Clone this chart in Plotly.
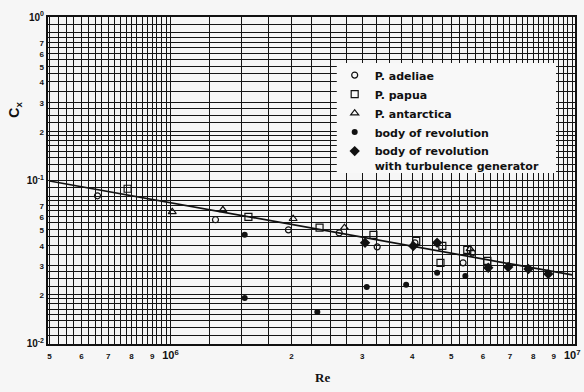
import plotly.graph_objects as go

# ---- data ----
adeliae_re = [6.58e5, 1.294e6, 1.966e6, 2.63e6, 3.27e6, 4.06e6, 5.64e6, 5.35e6]
adeliae_cx = [0.0803, 0.0573, 0.0497, 0.0476, 0.0391, 0.0414, 0.0359, 0.0312]

papua_re = [7.82e5, 1.563e6, 2.35e6, 3.20e6, 4.09e6, 4.75e6, 4.70e6, 5.48e6, 6.15e6]
papua_cx = [0.0887, 0.0597, 0.0512, 0.0463, 0.0425, 0.0396, 0.0312, 0.0375, 0.0321]

antarctica_re = [1.01e6, 1.35e6, 2.02e6, 2.71e6, 5.57e6]
antarctica_cx = [0.0641, 0.0659, 0.0581, 0.0512, 0.0380]

body_re = [1.53e6, 1.53e6, 2.32e6, 3.08e6, 3.86e6, 4.61e6, 5.42e6]
body_cx = [0.0463, 0.0190, 0.0156, 0.0222, 0.0229, 0.0271, 0.0259]

turb_re = [3.05e6, 4.02e6, 4.61e6, 6.18e6, 6.93e6, 7.78e6, 8.72e6]
turb_cx = [0.0414, 0.0396, 0.0414, 0.0291, 0.0294, 0.0286, 0.0267]

fit_re = [5.0e5, 1.0e7]
fit_cx = [0.099, 0.0263]

# tick labels
x_label_vals = [5e5, 6e5, 7e5, 8e5, 9e5, 1e6, 2e6, 3e6, 4e6, 5e6, 6e6, 7e6, 8e6, 9e6, 1e7]
x_label_txt = ["5", "6", "7", "8", "9", "10<sup>6</sup>", "2", "3", "4", "5", "6", "7", "8", "9", "10<sup>7</sup>"]
y_label_vals = [1.0, 0.7, 0.6, 0.5, 0.4, 0.3, 0.2, 0.1, 0.07, 0.06, 0.05, 0.04, 0.03, 0.02, 0.01]
y_label_txt = ["10<sup>0</sup>", "7", "6", "5", "4", "3", "2", "10<sup>-1</sup>",
               "7", "6", "5", "4", "3", "2", "10<sup>-2</sup>"]

# graph-paper grid positions
def frange(a, b, s):
    out = []
    v = a
    while v <= b + 1e-12:
        out.append(round(v, 10))
        v += s
    return out

x_grid = sorted(set(frange(5e5, 1e6, 0.25e5) + frange(1e6, 1e7, 0.25e6)))
y_grid = []
for base in (0.01, 0.1):
    y_grid += frange(base, 2 * base, 0.125 * base)
    y_grid += frange(2 * base, 3 * base, 0.25 * base)
    y_grid += frange(3 * base, 8 * base, 0.5 * base)
    y_grid += frange(8 * base, 10 * base, 1.0 * base)
y_grid = sorted(set(round(v, 8) for v in y_grid))


def fmt(t):
    if t.startswith("10"):
        return "<b>" + t + "</b>"
    return '<span style="font-size:8px"><b>' + t + "</b></span>"


def label_for(v, vals, txts):
    for lv, lt in zip(vals, txts):
        if abs(v - lv) / lv < 1e-6:
            return fmt(lt)
    return " "


x_ticktext = [label_for(v, x_label_vals, x_label_txt) for v in x_grid]
y_ticktext = [label_for(v, y_label_vals, y_label_txt) for v in y_grid]

fig = go.Figure()

fig.add_trace(go.Scatter(x=fit_re, y=fit_cx, mode="lines",
                         line=dict(color="#111", width=1.7), showlegend=False,
                         hoverinfo="skip"))

mk_line = dict(color="#111", width=1.2)
fig.add_trace(go.Scatter(x=adeliae_re, y=adeliae_cx, mode="markers", name="P. adeliae",
                         marker=dict(symbol="circle-open", size=6, color="#111", line=mk_line)))
fig.add_trace(go.Scatter(x=papua_re, y=papua_cx, mode="markers", name="P. papua",
                         marker=dict(symbol="square-open", size=7, color="#111", line=mk_line)))
fig.add_trace(go.Scatter(x=antarctica_re, y=antarctica_cx, mode="markers", name="P. antarctica",
                         marker=dict(symbol="triangle-up-open", size=7, color="#111", line=mk_line)))
fig.add_trace(go.Scatter(x=body_re, y=body_cx, mode="markers", name="body of revolution",
                         marker=dict(symbol="circle", size=6, color="#111")))
fig.add_trace(go.Scatter(x=turb_re, y=turb_cx, mode="markers",
                         name="body of revolution<br>with turbulence generator",
                         marker=dict(symbol="diamond", size=8, color="#111")))

bg = "#f6f6f6"
fig.update_layout(
    width=584, height=392,
    margin=dict(l=48, r=9, t=17, b=48, autoexpand=False),
    paper_bgcolor=bg, plot_bgcolor=bg,
    font=dict(family="Liberation Sans, Arial, sans-serif", color="#111", size=11),
    showlegend=True,
    legend=dict(x=0.544, y=0.864, xanchor="left", yanchor="top",
                bgcolor="rgba(0,0,0,0)", borderwidth=0, tracegroupgap=0,
                valign="top",
                font=dict(size=11, family="DejaVu Sans, sans-serif",
                          weight="bold", color="#111")),
    xaxis=dict(type="log", range=[5.695, 7.007], automargin=False,
               tickmode="array", tickvals=x_grid, ticktext=x_ticktext,
               showgrid=True, gridcolor="#151515", gridwidth=1.3,
               ticks="", showline=True, linecolor="#111", linewidth=2, mirror=True,
               zeroline=False, tickfont=dict(size=11, color="#111"), tickangle=0),
    yaxis=dict(type="log", range=[-2.003, 0.0], automargin=False,
               tickmode="array", tickvals=y_grid, ticktext=y_ticktext,
               showgrid=True, gridcolor="#151515", gridwidth=1.3,
               ticks="", showline=True, linecolor="#111", linewidth=2, mirror=True,
               zeroline=False, tickfont=dict(size=10, color="#111")),
    shapes=[dict(type="rect", xref="x domain", yref="y domain",
                 x0=0.548, x1=0.964, y0=0.523, y1=0.859,
                 fillcolor="#f8f8f8", line=dict(width=0), layer="above")],
    annotations=[
        dict(text="<b>C<sub>x</sub></b>", xref="paper", yref="paper", x=-0.063, y=0.716,
             xanchor="center", yanchor="middle",
             showarrow=False, textangle=-90, font=dict(size=14, color="#111")),
        dict(text="<b>Re</b>", xref="paper", yref="paper", x=0.52, y=-0.101,
             xanchor="center", yanchor="middle",
             showarrow=False, font=dict(size=13, family="Liberation Serif, serif", color="#111")),
    ],
)

fig.write_html("out.html", config={"displayModeBar": False},
               post_script="document.body.style.margin='0px';")
